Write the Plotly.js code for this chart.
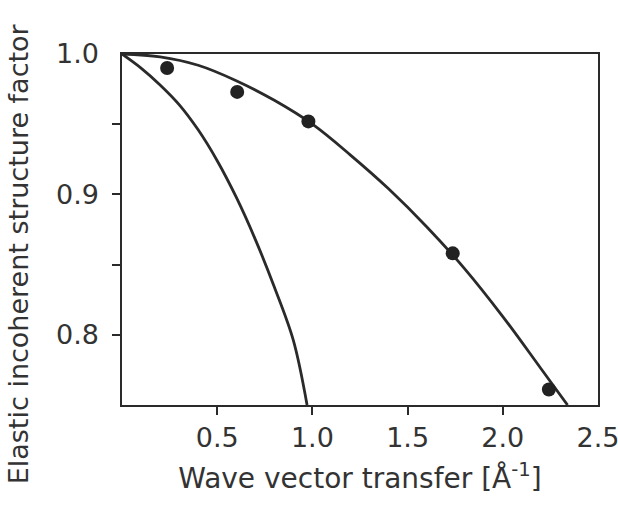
<!DOCTYPE html>
<html>
<head>
<meta charset="utf-8">
<script src="https://cdn.plot.ly/plotly-3.0.1.min.js"></script>
<style>html,body{margin:0;padding:0;background:#fff;}#chart{width:618px;height:517px;}</style>
</head>
<body>
<div id="chart"></div>
<script>
// Measured data points
var pointQ = [0.237, 0.605, 0.979, 1.737, 2.242];
var pointS = [0.990, 0.973, 0.952, 0.858, 0.761];

// Upper fitted curve
var upperQ = [0, 0.2, 0.4, 0.6, 0.8, 1.0, 1.2, 1.4, 1.6, 1.8, 2.0, 2.2, 2.34];
var upperS = [1.0, 0.998, 0.992, 0.981, 0.967, 0.950, 0.928, 0.904, 0.877, 0.847, 0.813, 0.776, 0.75];

// Lower curve
var lowerQ = [0, 0.1, 0.2, 0.3, 0.4, 0.5, 0.6, 0.7, 0.8, 0.9, 0.972];
var lowerS = [1.0, 0.990, 0.978, 0.964, 0.946, 0.924, 0.898, 0.868, 0.834, 0.796, 0.750];

// Tick positions & labels
var xTickVals = [0.5, 1.0, 1.5, 2.0];
var xLabelVals = [0.5, 1.0, 1.5, 2.0, 2.5];
var xLabelText = ['0.5', '1.0', '1.5', '2.0', '2.5'];
var yTickVals = [0.8, 0.85, 0.9, 0.95];
var yLabelVals = [0.8, 0.9, 1.0];
var yLabelText = ['0.8', '0.9', '1.0'];

var xTitle = 'Wave vector transfer [Å<sup>-1</sup>]';
var yTitle = 'Elastic incoherent structure factor';

var ink = '#2a2a2a';
var font = {family: 'DejaVu Sans, sans-serif', size: 27, color: '#333'};

var traces = [
  {x: upperQ, y: upperS, mode: 'lines', line: {color: ink, width: 2.8, shape: 'spline'}, hoverinfo: 'skip'},
  {x: lowerQ, y: lowerS, mode: 'lines', line: {color: ink, width: 2.8, shape: 'spline'}, hoverinfo: 'skip'},
  {x: pointQ, y: pointS, mode: 'markers', marker: {color: '#222', size: 14}, cliponaxis: false},
  {x: [null], y: [null], xaxis: 'x2', yaxis: 'y2', mode: 'markers', hoverinfo: 'skip'}
];

var layout = {
  width: 618, height: 517,
  margin: {l: 122, r: 20, t: 54, b: 112},
  paper_bgcolor: '#fff', plot_bgcolor: '#fff',
  showlegend: false,
  font: font,
  xaxis: {
    range: [0, 2.5], showgrid: false, zeroline: false,
    showline: true, mirror: true, linecolor: ink, linewidth: 2,
    ticks: 'outside', ticklen: 8, tickwidth: 2, tickcolor: ink,
    tickmode: 'array', tickvals: xTickVals, showticklabels: false,
    title: {text: xTitle, font: {family: font.family, size: 28, color: '#333'}, standoff: 54}
  },
  xaxis2: {
    range: [0, 2.5], overlaying: 'x', anchor: 'y', side: 'bottom',
    showgrid: false, zeroline: false, showline: false, ticks: '',
    tickmode: 'array', tickvals: xLabelVals, ticktext: xLabelText,
    tickfont: font, ticklabelstandoff: 14, ticklabeloverflow: 'allow'
  },
  yaxis: {
    range: [0.75, 1.0], showgrid: false, zeroline: false,
    showline: true, mirror: true, linecolor: ink, linewidth: 2,
    ticks: 'outside', ticklen: 8, tickwidth: 2, tickcolor: ink,
    tickmode: 'array', tickvals: yTickVals, showticklabels: false
  },
  yaxis2: {
    range: [0.75, 1.0], overlaying: 'y', anchor: 'x', side: 'left',
    showgrid: false, zeroline: false, showline: false, ticks: '',
    tickmode: 'array', tickvals: yLabelVals, ticktext: yLabelText,
    tickfont: font, ticklabelstandoff: 22, ticklabeloverflow: 'allow'
  },
  annotations: [{
    text: yTitle, textangle: -90, showarrow: false,
    xref: 'paper', yref: 'paper', x: -0.218, y: 0.43,
    xanchor: 'center', yanchor: 'middle',
    font: {family: font.family, size: 27, color: '#333'}
  }]
};

Plotly.newPlot('chart', traces, layout, {displayModeBar: false, staticPlot: true});
</script>
</body>
</html>
